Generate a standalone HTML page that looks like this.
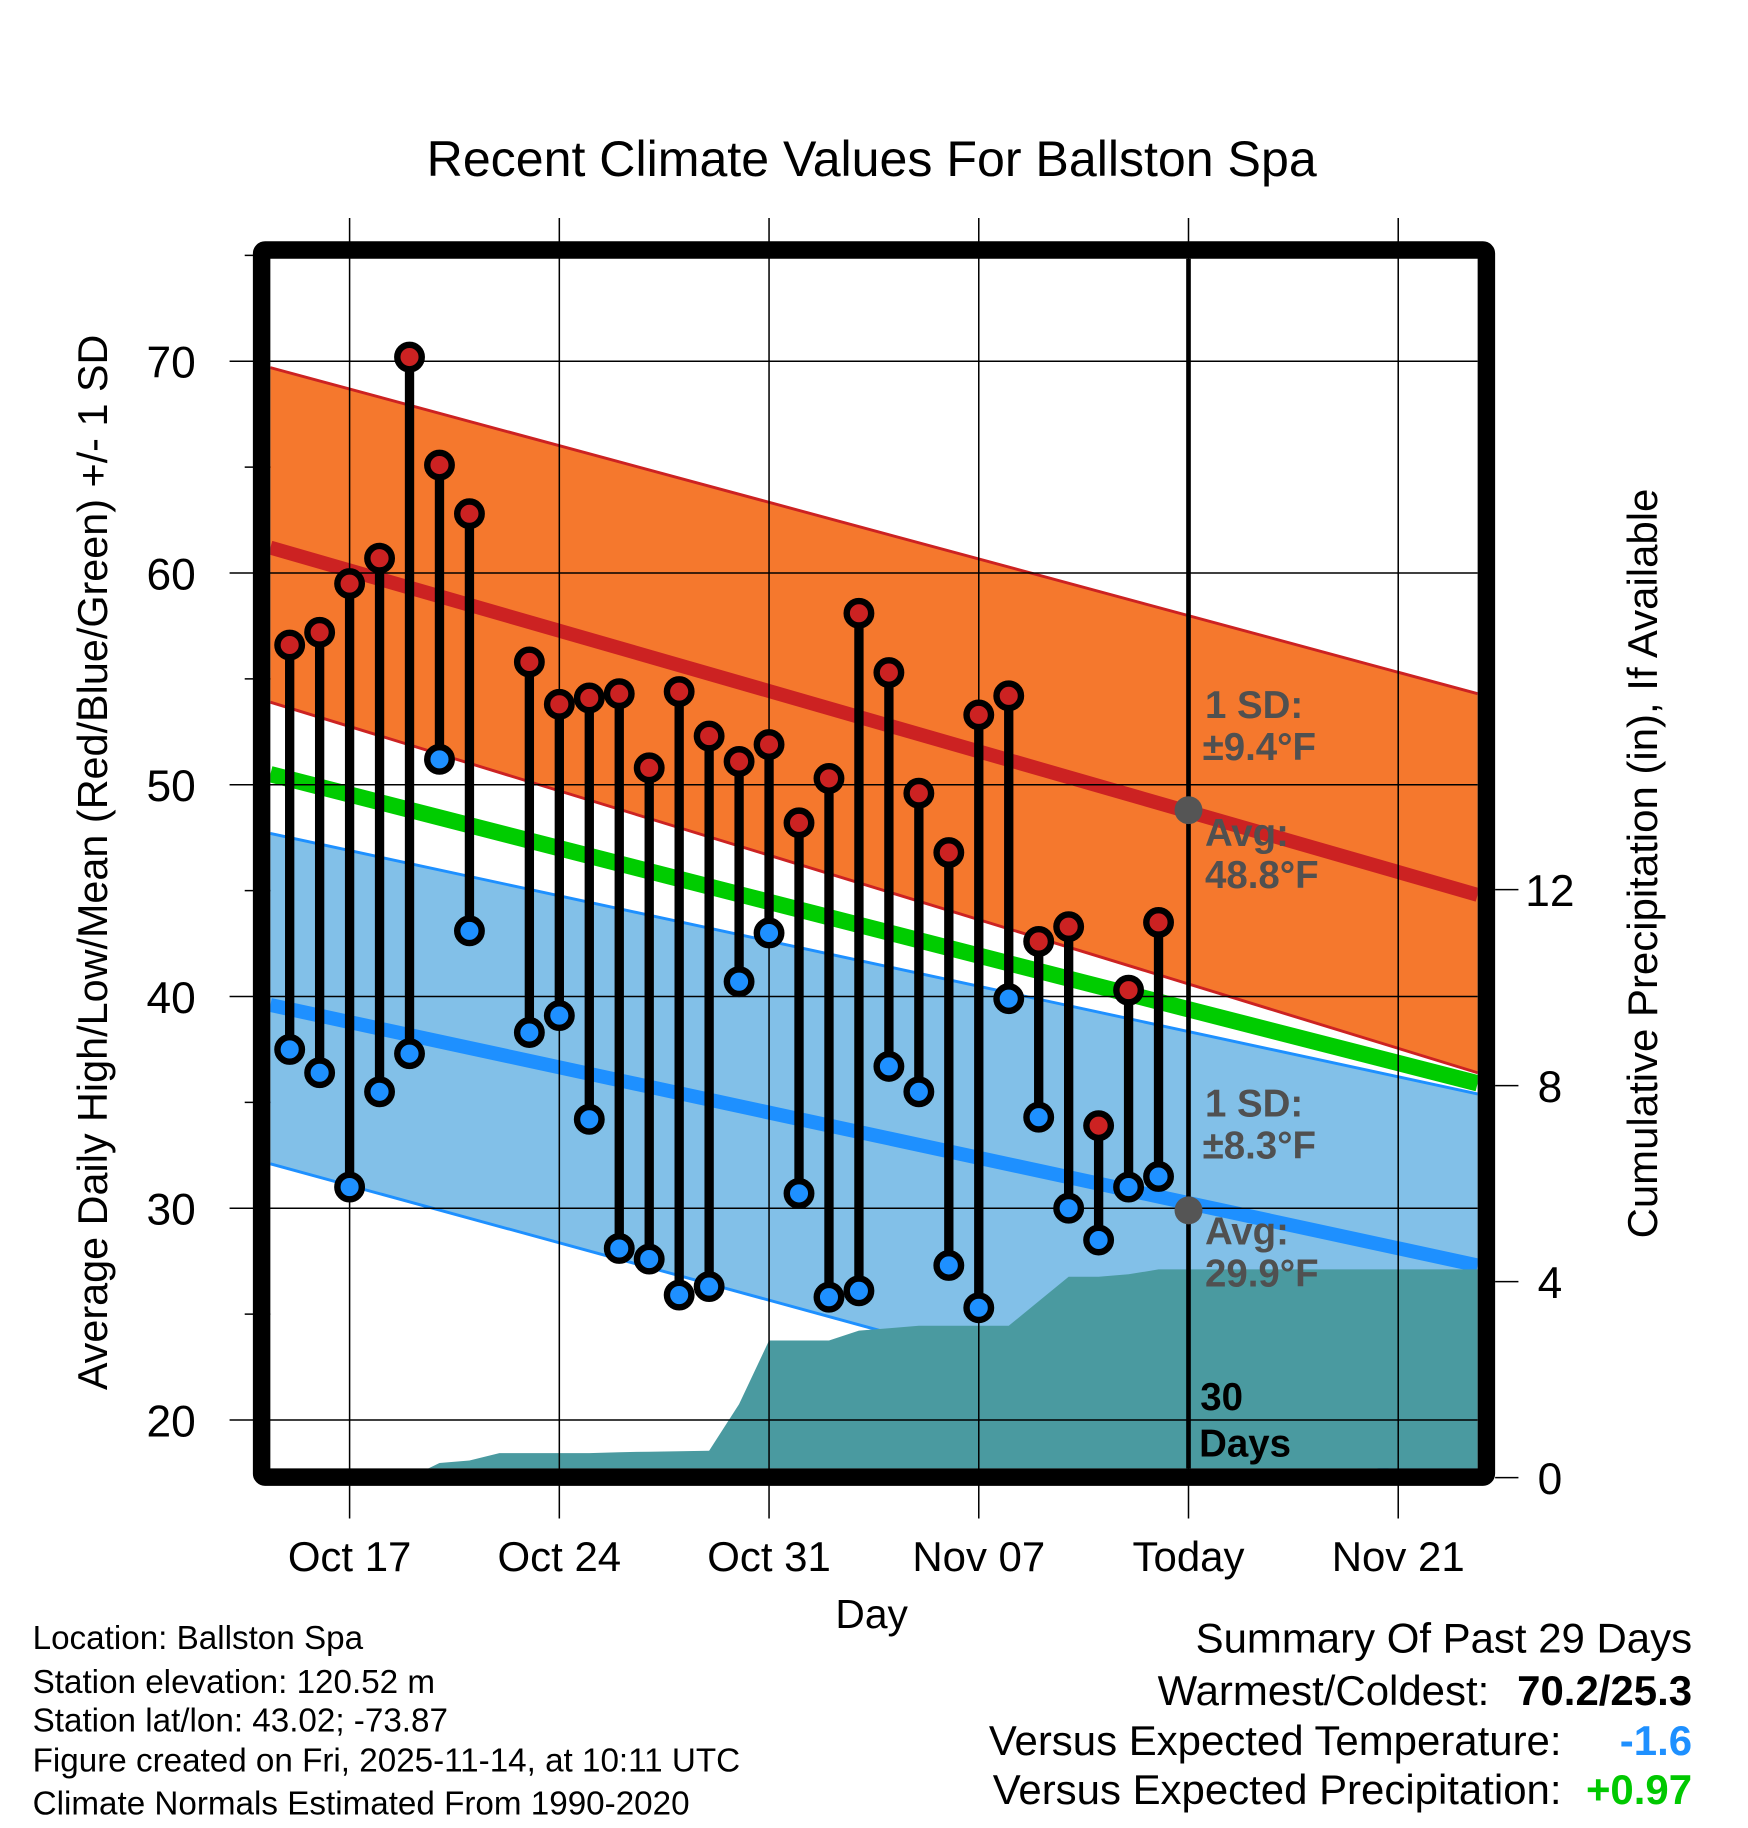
<!DOCTYPE html>
<html><head><meta charset="utf-8"><style>html,body{margin:0;padding:0;background:#fff}svg{display:block}text{font-family:"Liberation Sans",Arial,sans-serif}</style></head>
<body>
<svg id="chart" width="1748" height="1828" viewBox="0 0 1500 1568.6" xmlns="http://www.w3.org/2000/svg">
<text x="748" y="151" font-size="43" text-anchor="middle">Recent Climate Values For Ballston Spa</text>
<g id="layer"></g>
<text transform="translate(92,740) rotate(-90)" font-size="35.5" text-anchor="middle">Average Daily High/Low/Mean (Red/Blue/Green) +/- 1 SD</text>
<text transform="translate(1422,741) rotate(-90)" font-size="36" text-anchor="middle">Cumulative Precipitation (in), If Available</text>
<text x="748" y="1397" font-size="35" text-anchor="middle">Day</text>
<g font-size="28.5">
<text x="28" y="1415">Location: Ballston Spa</text>
<text x="28" y="1453">Station elevation: 120.52 m</text>
<text x="28" y="1486">Station lat/lon: 43.02; -73.87</text>
<text x="28" y="1520">Figure created on Fri, 2025-11-14, at 10:11 UTC</text>
<text x="28" y="1557">Climate Normals Estimated From 1990-2020</text>
</g>
<g font-size="36" text-anchor="end">
<text x="1452" y="1418">Summary Of Past 29 Days</text>
<text x="1278" y="1463">Warmest/Coldest:</text>
<text x="1452" y="1463" font-weight="bold">70.2/25.3</text>
<text x="1340" y="1506">Versus Expected Temperature:</text>
<text x="1452" y="1506" font-weight="bold" fill="#1e90ff">-1.6</text>
<text x="1340" y="1548">Versus Expected Precipitation:</text>
<text x="1452" y="1548" font-weight="bold" fill="#00c800">+0.97</text>
</g>
</svg>
<script>
// data
const days = ["Oct15","Oct16","Oct17","Oct18","Oct19","Oct20","Oct21","Oct22","Oct23","Oct24","Oct25","Oct26","Oct27","Oct28","Oct29","Oct30","Oct31","Nov01","Nov02","Nov03","Nov04","Nov05","Nov06","Nov07","Nov08","Nov09","Nov10","Nov11","Nov12","Nov13"];
const highs = [56.6,57.2,59.5,60.7,70.2,65.1,62.8,null,55.8,53.8,54.1,54.3,50.8,54.4,52.3,51.1,51.9,48.2,50.3,58.1,55.3,49.6,46.8,53.3,54.2,42.6,43.3,33.9,40.3,43.5];
const lows = [37.5,36.4,31.0,35.5,37.3,51.2,43.1,null,38.3,39.1,34.2,28.1,27.6,25.9,26.3,40.7,43.0,30.7,25.8,26.1,36.7,35.5,27.3,25.3,39.9,34.3,30.0,28.5,31.0,31.5];
const precip = [0,0,0,0,0,0.3,0.35,0.5,0.5,0.5,0.5,0.52,0.53,0.54,0.55,1.5,2.8,2.8,2.8,3.0,3.05,3.1,3.1,3.1,3.1,3.6,4.1,4.1,4.15,4.25];
// normals at plot left / right edge
const normHigh = [61.2,44.8], normHighUp = [69.7,54.3], normHighLo = [53.9,36.4];
const normLow = [39.6,27.3], normLowUp = [47.7,35.4], normLowLo = [32.1,16.5];
const normMean = [50.5,35.9];
const yTicks = [20,30,40,50,60,70];
const yMinor = [25,35,45,55,65,75];
const pTicks = [0,4,8,12];
const xTickDays = [0,7,14,21,28,35];
const xTickLabels = ["Oct 17","Oct 24","Oct 31","Nov 07","Today","Nov 21"];
const todayDay = 28;

const NS="http://www.w3.org/2000/svg";
const L=232,R=1268,T=222,B=1260;
const dayIdxOffset=-2;
const xs=d=>300+d*25.71;
const ys=v=>310+(70-v)*18.17;
const yp=v=>1268-v*42.05;
const g=document.getElementById('layer');
function mk(tag,at,parent){const e=document.createElementNS(NS,tag);for(const k in at)e.setAttribute(k,at[k]);(parent||g).appendChild(e);return e;}
const defs=mk('defs',{});const cp=mk('clipPath',{id:'pc'},defs);mk('rect',{x:L,y:T,width:R-L,height:B-T},cp);
const plot=mk('g',{'clip-path':'url(#pc)'});


function band(up,lo,fill,edge,name){
  const p=mk('polygon',{points:`${L},${ys(up[0])} ${R},${ys(up[1])} ${R},${ys(lo[1])} ${L},${ys(lo[0])}`,fill:fill},plot);
  
  
  [up,lo].forEach(a=>{mk('line',{x1:L,y1:ys(a[0]),x2:R,y2:ys(a[1]),stroke:edge,'stroke-width':2.5},plot);});
}
band(normLowUp,normLowLo,'#82c0e8','#1e90ff','low-sd-band');
band(normHighUp,normHighLo,'#f5782d','#cc2222','high-sd-band');
function nline(a,col,w,name){const l=mk('line',{x1:L,y1:ys(a[0]),x2:R,y2:ys(a[1]),stroke:col,'stroke-width':w},plot);
  
  }
nline(normMean,'#00cc00',14,'mean-normal-line');
nline(normHigh,'#cc2222',12,'high-normal-line');
nline(normLow,'#1e90ff',12,'low-normal-line');
let pts=`${L},${yp(0)} `;
precip.forEach((v,i)=>{pts+=`${xs(i+dayIdxOffset)},${yp(v)} `;});
pts+=`${R},${yp(precip[precip.length-1])} ${R},${yp(0)}`;
const pa=mk('polygon',{points:pts,fill:'#4a9aa0'},plot);


yTicks.forEach(v=>{mk('line',{x1:197,y1:ys(v),x2:R,y2:ys(v),stroke:'#000','stroke-width':1.3});
  const t=mk('text',{x:168,y:ys(v)+14,'font-size':38,'text-anchor':'end'});t.textContent=v;
  
  });
yMinor.forEach(v=>mk('line',{x1:210,y1:ys(v),x2:L,y2:ys(v),stroke:'#000','stroke-width':1.3}));
xTickDays.forEach((d,i)=>{mk('line',{x1:xs(d),y1:187,x2:xs(d),y2:1303,stroke:'#000','stroke-width':1.3});
  const t=mk('text',{x:xs(d),y:1348,'font-size':36,'text-anchor':'middle'});t.textContent=xTickLabels[i];
  
  });
pTicks.forEach(v=>{mk('line',{x1:1283,y1:yp(v),x2:1303,y2:yp(v),stroke:'#000','stroke-width':1.3});
  const t=mk('text',{x:1330,y:yp(v)+14,'font-size':38,'text-anchor':'middle'});t.textContent=v;
  
  });
const tl=mk('line',{x1:xs(todayDay),y1:T,x2:xs(todayDay),y2:B,stroke:'#000','stroke-width':4});


highs.forEach((h,i)=>{if(h==null)return;const x=xs(i+dayIdxOffset);
  const s=mk('line',{x1:x,y1:ys(h),x2:x,y2:ys(lows[i]),stroke:'#000','stroke-width':8});
  
  
  const c1=mk('circle',{cx:x,cy:ys(h),r:10.5,fill:'#cc2222',stroke:'#000','stroke-width':5.5});
  
  
  const c2=mk('circle',{cx:x,cy:ys(lows[i]),r:10.5,fill:'#1e90ff',stroke:'#000','stroke-width':5.5});
  
  
});
const todayHigh=48.8,todayLow=29.9;
[todayHigh,todayLow].forEach(v=>{const c=mk('circle',{cx:xs(todayDay),cy:ys(v),r:12,fill:'#555'});
  
  });
function lab(txt,x,y,col){const t=mk('text',{x:x,y:y,'font-size':33,'font-weight':'bold',fill:col});t.textContent=txt;
  
  return t;}
lab('1 SD:',1034,616,'#505050');lab('±9.4°F',1032,652,'#505050');
lab('Avg:',1034,726,'#505050');lab('48.8°F',1034,762,'#505050');
lab('1 SD:',1034,958,'#505050');lab('±8.3°F',1032,994,'#505050');
lab('Avg:',1034,1068,'#505050');lab('29.9°F',1034,1104,'#505050');
lab('30',1030,1210,'#000');lab('Days',1029,1250,'#000');
const fr=mk('rect',{x:224.5,y:214.5,width:1051,height:1053,fill:'none',stroke:'#000','stroke-width':15,rx:3});


</script>
</body></html>
